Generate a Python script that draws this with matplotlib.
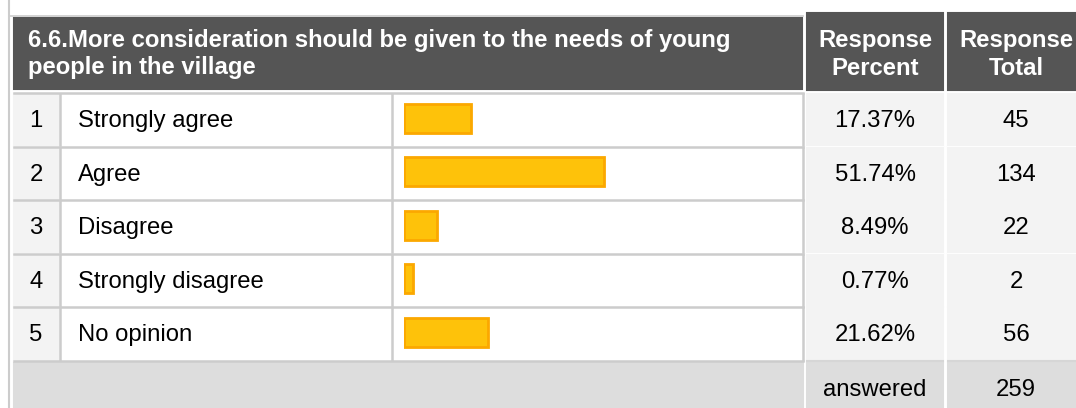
import matplotlib
matplotlib.use("Agg")
import matplotlib.pyplot as plt
from matplotlib.patches import Rectangle
import numpy as np

plt.rcParams['font.family'] = ['Liberation Sans', 'DejaVu Sans']

# data
title_lines = ["6.6.More consideration should be given to the needs of young",
               "people in the village"]
col_headers = [["Response", "Percent"], ["Response", "Total"]]
labels = ["Strongly agree", "Agree", "Disagree", "Strongly disagree", "No opinion"]
percents = [17.37, 51.74, 8.49, 0.77, 21.62]
totals = [45, 134, 22, 2, 56]
answered = 259

W, H = 1076, 408
DARK = "#555555"
LIGHT = "#F3F3F3"
FOOT = "#DDDDDD"
LINE = "#CCCCCC"
FS_HEAD = 17.2
FS_ROW = 17.2

fig = plt.figure(figsize=(W / 100, H / 100), dpi=100)
ax = fig.add_axes([0, 0, 1, 1])
ax.set_xlim(0, W)
ax.set_ylim(H, 0)
ax.axis("off")

def cell(x0, y0, x1, y1, fc, ec=None, lw=1.5):
    ax.add_patch(Rectangle((x0, y0), x1 - x0, y1 - y0, facecolor=fc,
                           edgecolor=ec if ec else fc, linewidth=lw))

# columns (pixel layout)
c_num = (14, 59)
c_lab = (61, 391)
c_bar = (392, 803)
c_pct = (807, 943)
c_tot = (948, 1085)
row_top = 93
row_h = 53.6

# left border line
ax.plot([8.5, 8.5], [0, H], color=LINE, lw=1.5)
ax.plot([8.5, 803], [16, 16], color=LINE, lw=1.2)

# header
cell(14, 18, 802, 89, DARK)
cell(c_pct[0], 13, c_pct[1], 90, DARK)
cell(c_tot[0], 13, c_tot[1], 90, DARK)
for i, line in enumerate(title_lines):
    ax.text(28, 47 + 27 * i, line, color="white", fontsize=FS_HEAD,
            fontweight="bold", va="baseline", ha="left")
for (x0, x1), lines in zip([c_pct, (948, 1084)], col_headers):
    for i, line in enumerate(lines):
        ax.text((x0 + x1) / 2, 47 + 28 * i, line, color="white", fontsize=FS_HEAD,
                fontweight="bold", va="baseline", ha="center")

# rows
for i, (lab, p, t) in enumerate(zip(labels, percents, totals)):
    y0 = row_top + i * row_h
    y1 = y0 + row_h - 1.5
    ax.plot([c_num[0], c_bar[1]], [y0, y0], color=LINE, lw=1.8)
    cell(c_num[0], y0 + 1, c_num[1], y1, LIGHT)
    ax.plot([c_num[1] + 0.5] * 2, [y0 + 1, y1], color=LINE, lw=1.8)
    ax.plot([c_lab[1] + 0.5] * 2, [y0 + 1, y1], color=LINE, lw=1.8)
    ax.plot([c_bar[1]] * 2, [y0 + 1, y1], color=LINE, lw=1.8)
    cell(c_pct[0], y0 + 1, c_pct[1], y1, LIGHT)
    cell(c_tot[0], y0 + 1, c_tot[1], y1, LIGHT)
    yb = y0 + 34
    ax.text(sum(c_num) / 2 - 0.5, yb, str(i + 1), fontsize=FS_ROW, ha="center", va="baseline")
    ax.text(78, yb, lab, fontsize=FS_ROW, ha="left", va="baseline")
    ax.text(sum(c_pct) / 2, yb, f"{p:.2f}%", fontsize=FS_ROW, ha="center", va="baseline")
    ax.text(1016, yb, str(t), fontsize=FS_ROW, ha="center", va="baseline")

# footer
fy = row_top + len(labels) * row_h
ax.plot([c_num[0], c_bar[1]], [fy, fy], color=LINE, lw=1.8)
cell(c_num[0], fy + 1.5, c_bar[1], H + 2, FOOT)
cell(c_pct[0], fy + 1.5, c_pct[1], H + 2, FOOT)
cell(c_tot[0], fy + 1.5, c_tot[1], H + 2, FOOT)
ax.plot([c_pct[0], c_pct[1]], [fy, fy], color="#D6D6D6", lw=1.5)
ax.plot([c_tot[0], c_tot[1]], [fy, fy], color="#D6D6D6", lw=1.5)
ax.text(sum(c_pct) / 2, fy + 35, "answered", fontsize=FS_ROW, ha="center", va="baseline")
ax.text(1016, fy + 35, str(answered), fontsize=FS_ROW, ha="center", va="baseline")

# bars in their own axes: 100% spans 387 px
bx0, bw = 404, 387
bax = fig.add_axes([bx0 / W, (H - fy) / H, bw / W, (fy - row_top) / H])
bax.set_xlim(0, 100)
bax.set_ylim(len(labels) - 0.5, -0.5)
bax.axis("off")
bax.patch.set_alpha(0)
shown = np.maximum(percents, 2.4)
bax.barh(np.arange(len(labels)) - 0.03, shown, height=29 / row_h, left=0,
         color="#FEC20A", edgecolor="#FBA800", linewidth=2)

fig.savefig("out.png", dpi=100)
